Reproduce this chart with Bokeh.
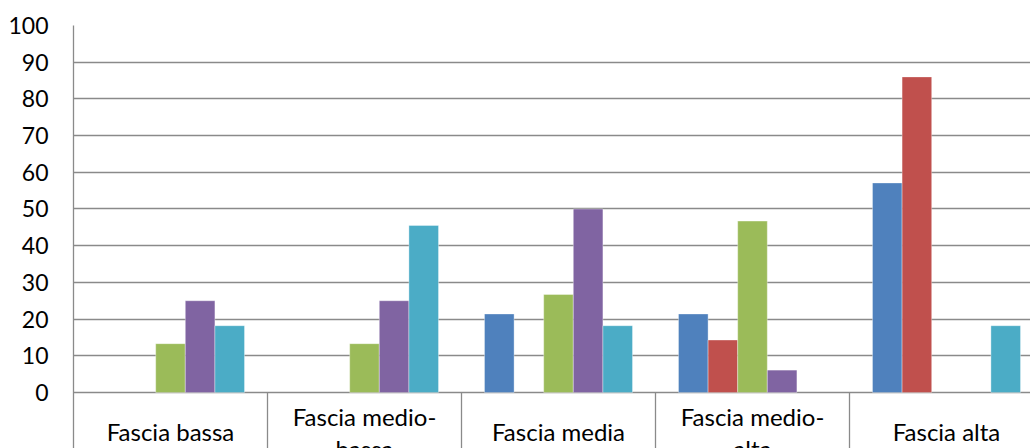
from bokeh.plotting import figure
from bokeh.models import Range1d, FixedTicker, ColumnDataSource
from bokeh.core.properties import value
from bokeh.embed import file_html
from bokeh.resources import INLINE

categories = ["Fascia bassa", "Fascia medio-bassa", "Fascia media", "Fascia medio-alta", "Fascia alta"]
category_lines = [["Fascia bassa"], ["Fascia medio-", "bassa"], ["Fascia media"],
                  ["Fascia medio-", "alta"], ["Fascia alta"]]
series_names = ["Serie 1", "Serie 2", "Serie 3", "Serie 4", "Serie 5"]
series_blue = [0, 0, 21.4, 21.4, 57.1]
series_red = [0, 0, 0, 14.3, 86.0]
series_green = [13.3, 13.3, 26.7, 46.7, 0]
series_purple = [25, 25, 50, 6.1, 0]
series_cyan = [18.2, 45.5, 18.2, 0, 18.2]
y_ticks = [0, 10, 20, 30, 40, 50, 60, 70, 80, 90, 100]

colors = ["#4F81BD", "#C0504D", "#9BBB59", "#8064A2", "#4BACC6"]
all_series = [series_blue, series_red, series_green, series_purple, series_cyan]

GRID = "#8A8A8A"
Y_BOTTOM = -15.26
BAR_W = 0.1526

p = figure(width=1030, height=448, output_backend="svg", toolbar_location=None,
           x_range=Range1d(0, 957 / 194), y_range=Range1d(Y_BOTTOM, 100),
           x_axis_location=None, min_border_left=73, min_border_top=25,
           min_border_right=0, min_border_bottom=0)
p.outline_line_color = None
p.background_fill_color = "white"
p.border_fill_color = "white"

p.xgrid.visible = False
p.ygrid.ticker = FixedTicker(ticks=y_ticks)
p.ygrid.grid_line_color = GRID
p.ygrid.grid_line_width = 1.3

ax = p.yaxis[0]
ax.ticker = FixedTicker(ticks=y_ticks)
ax.axis_line_color = GRID
ax.axis_line_width = 1.3
ax.major_tick_line_color = None
ax.minor_tick_line_color = None
ax.major_tick_out = 0
ax.major_tick_in = 0
ax.major_label_standoff = 25
ax.major_label_text_font = "Lato"
ax.major_label_text_font_size = "23px"
ax.major_label_text_color = "black"

# category separators below the zero line
bounds = [1, 2, 3, 4, 5]
p.segment(x0=bounds, y0=[0] * len(bounds), x1=bounds, y1=[Y_BOTTOM] * len(bounds),
          line_color=GRID, line_width=1.3)

# bars
for k, (vals, col) in enumerate(zip(all_series, colors)):
    xs, tops = [], []
    for i, v in enumerate(vals):
        if v > 0:
            xs.append(i + 0.5 + (k - 2) * BAR_W)
            tops.append(v)
    src = ColumnDataSource(dict(x=xs, top=tops))
    p.vbar(x="x", top="top", bottom=0, width=BAR_W, source=src,
           fill_color=col, line_color="white", line_alpha=0.35, line_width=1)

# category labels
lx, ly, lt = [], [], []
for i, lines in enumerate(category_lines):
    if len(lines) == 1:
        lx.append(i + 0.5); ly.append(-10.74); lt.append(lines[0])
    else:
        for j, t in enumerate(lines):
            lx.append(i + 0.5); ly.append(-6.65 - j * 8.7); lt.append(t)
p.text(x=lx, y=ly, text=lt, text_font=value("Lato"), text_font_size=value("24px"),
       text_align="center", text_baseline="alphabetic", text_color="black")

open("out.html", "w").write(file_html(p, INLINE))
